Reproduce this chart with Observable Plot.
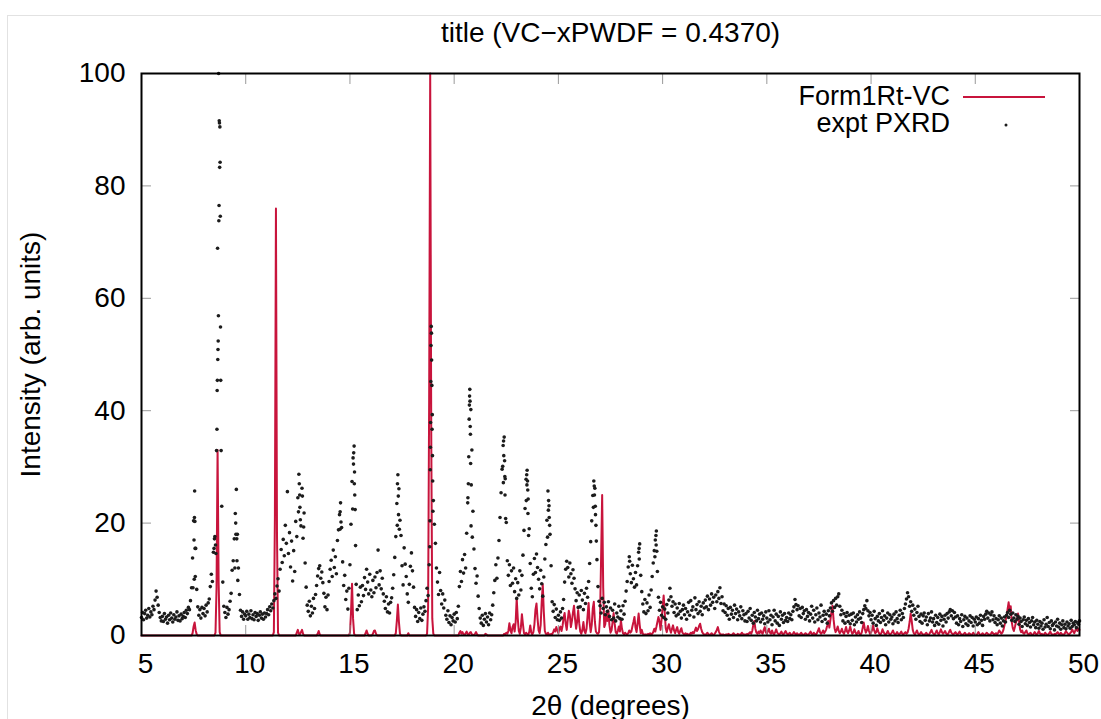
<!DOCTYPE html>
<html>
<head>
<meta charset="utf-8">
<script src="https://cdn.jsdelivr.net/npm/d3@7"></script>
<script src="https://cdn.jsdelivr.net/npm/@observablehq/plot@0.6"></script>
<style>
  html, body { margin: 0; padding: 0; background: #fff; }
  #wrap { position: relative; width: 1101px; height: 719px; overflow: hidden; background: #fff; }
  #edge { position: absolute; left: 7px; top: 15px; width: 1094px; height: 704px; border-top: 1px solid #e2e2e2; border-left: 1px solid #e2e2e2; box-sizing: border-box; }
  #chart { position: absolute; left: 0; top: 0; }
  #legend { position: absolute; left: 0; top: 0; pointer-events: none; }
</style>
</head>
<body>
<div id="wrap"><div id="edge"></div><div id="chart"></div></div>
<script>
// ---------------- data ----------------
const chartTitle = "title (VC\u2212xPWDF = 0.4370)";
const xLabel = "2\u03b8 (degrees)";
const yLabel = "Intensity (arb. units)";
const seriesNames = ["Form1Rt-VC", "expt PXRD"];
const xTicks = [5, 10, 15, 20, 25, 30, 35, 40, 45, 50];
const yTicks = [0, 20, 40, 60, 80, 100];

// both patterns are sampled from 5.00 to 50.00 deg in 0.05 deg steps (one row per degree)
const thetaStart = 5;
const thetaStep = 0.05;

// experimental PXRD intensities
const exptInt = [
  3.2,4.1,2.8,3.9,4.5,3.1,3.6,4.8,3.3,4.2,3.7,5.2,4.6,6.3,7.9,6.8,5.4,4.1,3.2,2.6,
  3.4,2.5,3.9,2.9,3.3,2.2,3.6,2.8,4.0,3.1,2.4,3.7,2.9,3.3,4.2,2.7,3.5,2.6,3.8,3.0,
  3.4,4.1,3.2,4.5,3.9,5.0,4.6,6.2,8.5,13.8,20.4,25.7,15.5,8.2,5.1,3.6,4.6,3.1,5.0,3.9,
  4.8,3.5,5.4,4.2,5.8,6.5,8.7,10.9,9.6,14.8,17.2,16.1,32.9,68.9,100,83.3,45.4,23.0,9.5,5.2,
  4.1,3.2,5.0,3.8,4.6,6.1,7.5,11.6,13.3,17.2,21.7,26.0,18.0,12.0,7.3,4.5,3.4,4.2,2.9,3.8,
  3.5,4.3,2.9,3.8,3.2,4.4,3.0,3.7,2.8,4.1,3.4,3.9,2.7,3.6,4.2,3.1,3.8,2.9,4.0,3.3,
  3.9,4.6,3.7,5.1,4.4,5.6,4.9,6.2,7.4,6.6,8.8,10.1,7.9,11.8,15.3,13.0,17.1,14.2,19.6,16.4,
  25.6,14.6,18.3,12.2,16.8,9.7,15.1,11.4,20.3,17.6,24.5,28.7,22.8,19.5,26.2,17.3,21.8,12.9,8.6,5.4,
  4.3,6.1,3.5,5.2,4.0,6.6,4.8,7.3,8.9,10.6,11.9,12.4,10.2,11.3,9.4,7.5,5.1,6.8,4.6,7.2,
  9.6,11.8,13.4,10.5,15.2,12.1,14.0,11.0,16.9,18.8,21.5,23.6,19.2,13.1,8.9,10.7,6.4,7.9,4.7,8.4,
  12.6,19.8,27.4,31.6,33.7,22.4,9.1,4.6,7.2,5.3,8.6,6.0,8.9,7.1,10.3,8.2,11.8,9.5,7.4,10.9,
  8.1,6.9,9.8,7.6,10.4,8.5,11.2,15.2,9.0,11.5,8.3,10.2,7.4,6.1,4.8,6.9,4.2,5.6,4.0,5.9,
  6.7,8.4,10.8,13.9,17.6,23.5,28.6,26.1,20.5,17.8,12.4,9.0,15.6,12.7,10.5,7.4,5.9,9.1,12.3,14.7,
  11.5,8.6,5.0,3.4,4.6,2.5,4.1,3.0,4.9,2.7,3.8,5.1,4.3,6.2,8.4,7.1,12.6,29.5,55.0,39.3,
  24.0,19.8,16.4,12.0,9.5,7.3,11.2,8.0,5.6,7.4,4.9,6.3,3.6,2.9,4.4,2.3,3.5,1.9,3.2,2.6,
  3.8,2.4,4.1,3.0,5.2,8.7,11.4,9.6,13.5,11.1,14.4,12.0,18.2,23.6,31.8,43.8,40.2,33.0,22.1,15.4,
  11.9,9.3,10.6,7.0,4.8,3.1,2.2,3.6,1.8,2.9,3.9,2.4,3.3,1.9,4.0,2.8,3.7,5.4,7.6,9.8,
  12.6,10.2,13.8,16.9,21.0,25.4,29.6,33.8,35.3,27.9,20.1,13.3,10.7,12.6,8.9,11.5,9.3,12.0,7.8,10.1,
  6.6,9.4,7.2,11.5,8.1,10.7,14.3,18.7,22.6,27.8,29.4,24.3,19.0,12.8,8.4,6.9,10.9,13.7,11.2,14.5,
  12.1,10.0,8.3,11.6,9.2,7.0,10.4,13.6,16.2,20.5,25.7,23.1,18.0,12.4,6.0,4.3,5.5,3.2,4.7,2.8,
  3.6,2.7,4.2,3.1,4.8,6.4,9.5,11.8,13.2,12.1,10.4,12.9,11.0,9.3,11.7,10.2,8.3,6.2,7.6,5.0,
  7.2,5.1,8.0,6.3,4.6,7.5,5.7,8.4,6.8,9.6,12.8,16.7,20.4,24.9,27.5,26.2,19.6,13.5,8.7,6.1,
  5.3,4.0,6.6,4.8,5.9,3.7,5.1,4.3,6.0,3.4,4.9,2.8,4.5,3.1,5.6,2.6,4.0,3.3,5.2,3.0,
  4.4,2.9,5.3,3.8,6.1,7.9,9.6,12.2,14.0,11.0,9.4,12.5,10.1,8.6,11.2,9.0,12.4,14.8,16.3,10.7,
  7.8,5.6,4.2,6.4,3.9,5.8,4.4,7.2,5.0,8.1,10.5,12.9,15.1,17.0,18.6,11.4,6.8,4.5,5.9,3.6,
  5.1,3.2,4.7,2.9,5.5,4.0,6.3,8.4,6.9,5.2,6.0,4.1,5.6,3.5,4.9,3.8,5.7,4.3,3.1,4.6,
  5.4,3.7,4.8,2.9,4.2,5.9,3.6,6.2,4.5,5.1,3.3,6.7,4.6,5.5,3.9,6.0,4.3,5.2,3.7,5.8,
  4.9,6.3,5.1,7.0,4.6,6.5,5.4,7.4,5.9,6.8,4.8,7.2,6.0,7.8,6.6,8.5,5.7,6.9,4.4,5.6,
  4.1,5.3,3.6,4.8,2.9,5.0,3.8,4.5,3.2,5.4,3.9,4.7,2.8,4.2,3.5,5.1,3.0,4.4,3.7,2.6,
  3.9,2.5,4.3,3.1,4.8,2.7,3.6,2.2,4.1,3.3,2.6,4.5,3.0,3.8,2.4,4.0,2.9,3.5,2.1,4.2,
  3.1,2.4,4.4,2.8,3.6,1.9,3.3,4.5,2.6,3.8,2.2,3.4,1.8,4.2,2.9,3.6,2.3,3.9,2.7,3.2,
  2.5,4.0,3.0,3.7,2.8,4.3,5.1,6.4,5.5,4.6,5.3,3.5,4.8,3.2,5.0,3.9,4.4,2.9,4.6,3.4,
  4.1,2.6,3.8,5.2,3.1,4.5,2.4,3.7,4.9,2.8,4.0,3.3,5.4,2.5,3.6,4.3,2.9,3.8,2.2,4.4,
  3.5,4.9,5.8,4.3,6.2,5.0,6.6,5.4,6.9,7.4,5.2,3.7,4.5,2.6,3.9,2.2,3.4,4.1,2.5,3.6,
  2.1,3.8,2.7,4.0,1.9,3.3,2.4,3.7,2.9,4.2,3.1,2.3,3.9,4.6,5.3,4.8,6.2,4.4,3.5,4.1,
  2.8,3.6,2.2,4.3,3.0,1.8,3.4,2.6,3.9,2.3,3.2,4.4,2.7,3.5,1.9,3.1,4.0,2.4,3.7,2.9,
  3.3,2.1,3.8,2.6,4.2,3.0,2.3,3.6,4.5,2.8,3.9,3.2,4.8,5.6,6.5,7.6,6.9,5.2,6.0,4.3,
  5.4,3.6,4.7,2.9,4.1,5.2,3.4,2.5,3.8,2.2,3.5,4.0,2.7,3.3,1.9,3.9,2.6,3.1,4.2,2.4,
  3.0,1.8,3.6,2.3,3.2,2.0,3.8,2.7,3.4,1.7,2.9,3.6,2.4,3.9,3.1,4.2,4.6,3.5,4.4,3.0,
  4.1,3.3,2.2,3.5,1.9,3.0,2.5,3.7,1.6,2.8,3.4,2.1,3.1,1.8,2.6,3.5,2.3,3.2,1.7,2.9,
  2.4,3.3,1.9,3.0,2.2,3.6,2.7,1.8,3.4,2.9,3.8,4.3,3.1,4.0,2.6,3.7,4.2,2.8,3.5,2.3,
  3.0,1.9,2.8,3.5,2.2,3.1,1.7,2.6,3.3,2.4,3.6,4.1,3.2,4.5,3.8,2.7,4.0,3.1,2.5,3.7,
  2.9,3.4,2.0,3.1,2.5,1.6,2.8,3.3,2.1,2.7,1.8,3.0,2.3,1.5,2.6,3.2,1.9,2.4,1.4,2.7,
  2.0,1.3,2.5,1.7,2.2,1.1,2.8,1.5,2.0,3.2,1.6,2.3,1.2,2.6,1.8,2.1,1.0,2.4,1.7,2.9,
  1.5,2.2,1.1,1.9,2.6,1.4,2.0,1.2,2.4,1.7,2.1,1.3,2.7,1.6,2.2,1.9,2.5,1.4,2.3,2.0,
  2.6
];

// extra experimental points recorded on the steep flanks of the strong reflections
const peakTheta = [
  7.47,7.52,7.53,7.54,7.56,7.57,7.58,
  8.48,8.52,8.57,8.62,8.63,8.64,8.66,8.67,8.68,8.69,8.71,8.72,8.73,8.74,8.76,8.77,8.78,8.79,8.82,
  9.48,9.52,9.53,9.57,9.58,9.62,
  12.53,12.57,12.59,12.62,12.72,12.78,
  14.52,14.53,14.57,
  15.13,15.17,15.18,15.21,15.22,15.23,15.27,
  17.27,17.28,17.32,17.33,17.37,
  18.83,18.84,18.86,18.87,18.88,18.89,18.91,18.92,18.93,18.94,18.96,18.97,18.98,
  20.66,20.68,20.72,20.73,20.74,20.76,20.77,20.78,20.79,20.81,20.82,20.87,
  22.33,22.36,22.37,22.38,22.42,22.43,22.44,22.47,
  23.46,23.48,23.49,23.52,23.53,23.54,23.57,
  24.48,24.52,24.53,24.56,24.58,
  26.68,26.72,26.73,26.77,26.78,26.82,
  28.42,28.87,28.88,
  29.63,29.68,29.69,29.72
];
const peakInt = [
  8.5,17.0,10.0,21.0,20.3,15.5,10.5,
  15.5,17.6,14.6,36.7,43.6,45.4,49.1,50.9,52.4,56.9,73.8,76.5,91.6,91.2,90.5,84.2,74.6,54.9,32.9,
  12.0,20.0,18.0,17.2,13.3,9.8,
  22.0,27.0,25.0,20.6,24.8,19.3,
  18.9,22.0,20.2,
  22.5,30.5,32.5,27.0,29.1,25.0,16.0,
  19.6,27.0,24.8,21.5,18.9,
  15.8,20.4,33.5,37.9,45.2,51.6,53.8,49.0,44.5,36.7,32.0,27.5,22.1,
  24.5,27.0,38.5,41.0,42.6,41.7,37.2,35.8,30.6,19.5,26.8,17.5,
  30.1,27.2,34.6,32.0,31.1,28.3,25.0,20.8,
  24.0,28.6,26.8,27.5,25.9,21.7,17.8,
  17.5,22.3,24.0,21.0,19.6,
  22.8,26.6,25.0,23.0,21.5,16.8,
  13.2,15.5,13.6,
  14.0,17.8,16.1,15.0
];

// calculated pattern of Form1Rt-VC
const calcInt = [
  0,0,0,0,0,0,0,0,0,0,0,0,0,0,0,0,0,0,0,0,
  0,0,0,0,0,0,0,0,0,0,0,0,0,0,0,0,0,0,0,0,
  0,0,0,0,0,0,0,0,0,0.4,1.6,2.3,0.9,0.2,0,0,0,0,0,0,
  0,0,0,0,0,0,0,0,0,0,0,0.5,8.5,33.0,9.5,0.6,0,0,0,0,
  0,0,0,0,0,0,0,0,0,0,0,0,0,0,0,0,0,0,0,0,
  0,0,0,0,0,0,0,0,0,0,0,0,0,0,0,0,0,0,0,0,
  0,0,0,0,0,0,0,0.6,21.0,76.0,18.0,0.5,0,0,0,0,0,0,0,0,
  0,0,0,0,0,0,0,0,0,0.5,1.0,0.3,0.2,0.6,1.0,0.3,0,0,0,0,
  0,0,0,0,0,0,0,0,0,0.3,0.8,0.2,0,0,0,0,0,0,0,0,
  0,0,0,0,0,0,0,0,0,0,0,0,0,0,0,0,0,0,0,0,
  0.5,4.0,9.2,3.0,0.3,0,0,0,0,0,0,0,0,0,0,0.4,0.9,0.3,0,0,
  0,0,0.3,0.8,0.9,0.3,0,0,0,0,0,0,0,0,0,0,0,0,0,0,
  0,0,0,0,0.4,2.6,5.5,2.4,0.3,0,0,0,0,0,0,0,0.4,0,0,0,
  0,0,0,0,0,0,0,0,0,0,0,0,0,0,0.3,5.0,42.0,100,36.0,3.0,
  0.3,0,0,0,0,0,0,0,0,0,0,0,0,0,0,0,0,0,0,0,
  0,0,0,0,0,0.5,0.8,0.3,0.6,0.2,0.1,0.4,0.7,0.2,0.1,0.5,0.6,0.2,0.1,0.1,
  0.3,0.6,0.2,0,0,0,0,0,0,0,0.3,0.2,0,0,0,0,0,0,0,0,
  0,0,0,0,0,0,0,0,0.3,0.2,0.5,0.3,0.8,2.2,0.9,0.4,1.5,2.0,0.7,2.4,
  6.6,3.1,0.8,0.3,1.4,3.8,2.0,0.4,0.2,0.5,0.3,0.1,0.6,1.8,0.5,0.2,0.6,2.0,4.6,5.7,
  3.0,0.9,0.4,1.9,6.0,9.1,4.2,0.8,0.3,0.2,0.5,0.2,0.1,0.3,0.2,0.6,1.1,0.7,1.5,0.9,
  0.4,1.3,1.6,0.8,1.7,3.2,4.0,2.1,1.0,2.8,4.4,3.6,1.5,2.6,4.1,5.3,2.9,1.2,2.5,4.5,
  2.2,0.7,0.3,1.0,2.4,0.8,0.4,1.2,3.5,5.8,2.3,0.6,1.9,4.8,6.0,2.5,0.7,0.4,0.3,0.6,
  3.5,14.0,25.0,8.5,1.5,2.0,4.0,2.6,4.5,1.8,0.5,0.9,2.4,4.0,2.1,0.6,0.3,0.8,1.6,0.7,
  2.7,1.2,0.4,0.2,0.5,0.3,0.2,0.4,0.9,0.5,0.7,1.6,2.4,3.3,1.4,0.6,2.2,3.9,1.9,0.4,
  1.0,0.3,0.2,0.1,0.2,0.1,0.3,0.2,0.4,0.2,0.3,0.6,1.2,0.7,1.5,2.4,3.3,2.5,1.0,2.8,
  5.0,7.1,4.2,1.3,0.6,1.4,2.0,1.1,0.5,1.2,1.8,0.9,0.4,1.0,1.5,0.6,0.3,0.9,1.3,0.5,
  0.3,0.2,0.4,0.2,0.3,0.1,0.2,0.5,0.3,0.6,0.4,0.9,1.4,0.8,1.1,1.7,2.1,1.2,0.6,0.3,
  0.2,0.1,0.3,0.5,0.2,0.1,0.2,0.4,0.2,0.1,0.3,0.6,1.0,1.5,0.7,0.3,0.2,0.1,0.2,0.1,
  0.1,0.2,0.1,0.3,0.2,0.1,0.1,0.2,0.4,0.2,0.1,0.1,0.3,0.2,0.1,0.2,0.5,0.3,0.1,0.2,
  0.1,0.3,0.2,0.4,0.6,0.3,0.8,1.9,2.6,1.2,0.5,0.3,0.7,0.4,0.9,0.5,0.3,1.0,1.5,0.6,
  0.3,0.8,1.2,0.5,0.3,0.9,0.4,0.2,0.6,1.1,0.5,0.3,0.2,0.4,0.7,0.3,0.2,0.5,0.8,0.4,
  0.2,0.3,0.5,0.2,0.1,0.3,0.6,0.3,0.2,0.4,0.2,0.1,0.3,0.5,0.2,0.1,0.2,0.4,0.3,0.1,
  0.2,0.4,0.7,0.3,0.2,0.5,0.3,0.1,0.4,0.8,1.3,0.6,0.3,0.5,0.9,0.4,0.7,1.1,1.8,2.6,
  1.4,2.8,4.2,5.3,2.9,1.3,0.6,1.0,1.6,0.8,0.4,0.7,1.2,0.6,0.3,0.8,1.5,0.7,0.4,0.9,
  1.6,0.8,0.3,0.5,1.1,0.6,0.2,0.4,0.8,0.3,0.2,0.5,1.4,2.3,1.2,0.5,0.9,1.7,0.8,0.3,
  0.5,1.0,1.8,0.9,0.4,0.6,1.3,0.7,0.3,0.2,0.5,1.1,0.6,0.3,0.2,0.4,0.8,0.4,0.2,0.3,
  0.5,0.9,0.4,0.2,0.3,0.6,0.3,0.2,0.4,0.7,0.3,0.2,0.4,0.6,0.3,0.5,1.2,2.4,3.9,2.6,
  1.0,0.4,0.2,0.5,0.9,0.4,0.2,0.3,0.6,0.3,0.2,0.1,0.3,0.5,0.2,0.1,0.3,0.6,1.0,0.5,
  0.3,0.2,0.5,0.9,0.4,0.2,0.6,1.1,0.6,0.3,0.5,0.8,0.4,0.2,0.3,0.7,1.0,0.5,0.3,0.2,
  0.4,0.6,0.3,0.2,0.4,0.7,0.3,0.2,0.1,0.3,0.5,0.2,0.1,0.2,0.4,0.3,0.1,0.2,0.5,0.3,
  0.2,0.1,0.3,0.6,0.3,0.1,0.2,0.4,0.2,0.1,0.3,0.5,0.3,0.2,0.1,0.3,0.6,0.4,0.2,0.3,
  0.4,0.2,0.5,0.9,0.6,0.3,0.5,1.0,1.8,2.6,3.4,4.7,5.9,4.3,5.2,2.4,1.3,0.8,1.5,2.3,
  2.8,3.9,2.5,1.1,0.6,0.9,0.4,0.3,0.6,0.9,0.4,0.2,0.3,0.5,0.2,0.1,0.3,0.6,0.3,0.2,
  0.4,0.8,0.4,0.2,0.3,0.1,0.2,0.5,0.3,0.1,0.2,0.4,0.7,0.3,0.2,0.1,0.3,0.2,0.4,0.6,
  0.3,0.2,0.5,0.3,0.1,0.2,0.4,0.8,0.5,0.3,0.2,0.4,0.6,1.1,0.7,0.4,0.9,1.3,0.8,1.2,
  1.0
];

// ---------------- build rows ----------------
const thetaAt = i => +(thetaStart + i * thetaStep).toFixed(2);
const calcRows = calcInt.map((v, i) => ({theta: thetaAt(i), intensity: v}));
const exptRows = exptInt.map((v, i) => ({theta: thetaAt(i), intensity: v}))
  .concat(peakTheta.map((t, i) => ({theta: t, intensity: peakInt[i]})));

const RED = "#c8143c";
const DOT = "#1c1c1c";
const TICK = "#999999";
const FONT = "'Liberation Sans', Arial, Helvetica, sans-serif";

const chart = Plot.plot({
  width: 1101,
  height: 719,
  marginTop: 73,
  marginRight: 22,
  marginBottom: 84,
  marginLeft: 141,
  style: {fontFamily: FONT, fontSize: "28px", color: "#000", background: "transparent", overflow: "visible"},
  x: {domain: [5, 50]},
  y: {domain: [0, 100]},
  marks: [
    Plot.line(calcRows, {x: "theta", y: "intensity", stroke: RED, strokeWidth: 2}),
    Plot.dot(exptRows, {x: "theta", y: "intensity", r: 1.8, fill: DOT, stroke: null}),
    Plot.axisX({ticks: xTicks, tickFormat: () => "", tickSize: -10, stroke: TICK, label: null}),
    Plot.text(xTicks, {x: d => d, text: d => String(d), frameAnchor: "bottom", dy: 29, dx: 4, lineAnchor: "middle", fontSize: 28, fill: "#000"}),
    Plot.axisX({anchor: "top", ticks: xTicks, tickFormat: () => "", tickSize: -10, stroke: TICK, label: null}),
    Plot.axisY({ticks: yTicks, tickFormat: d => String(d), tickSize: -10, tickPadding: 26, stroke: TICK,
      label: yLabel, labelAnchor: "center", labelArrow: "none", labelOffset: 121}),
    Plot.axisY({anchor: "right", ticks: yTicks, tickFormat: () => "", tickSize: -10, stroke: TICK, label: null}),
    Plot.frame({stroke: "#000", strokeWidth: 2}),
    Plot.text([xLabel], {frameAnchor: "bottom", dy: 79, lineAnchor: "bottom", fontSize: 28, fill: "#000"}),
    Plot.text([chartTitle], {frameAnchor: "top", dy: -40, lineAnchor: "middle", fontSize: 28, fill: "#000"})
  ]
});
document.getElementById("chart").appendChild(chart);

// legend (key box inside the frame, top right)
const NS = "http://www.w3.org/2000/svg";
const leg = document.createElementNS(NS, "svg");
leg.setAttribute("id", "legend");
leg.setAttribute("width", 1101);
leg.setAttribute("height", 719);
leg.setAttribute("font-family", FONT);
leg.setAttribute("font-size", 27);
const t1 = document.createElementNS(NS, "text");
t1.setAttribute("x", 950); t1.setAttribute("y", 105); t1.setAttribute("text-anchor", "end");
t1.textContent = seriesNames[0];
const l1 = document.createElementNS(NS, "line");
l1.setAttribute("x1", 963); l1.setAttribute("x2", 1045); l1.setAttribute("y1", 97); l1.setAttribute("y2", 97);
l1.setAttribute("stroke", RED); l1.setAttribute("stroke-width", 2);
const t2 = document.createElementNS(NS, "text");
t2.setAttribute("x", 950); t2.setAttribute("y", 132); t2.setAttribute("text-anchor", "end");
t2.textContent = seriesNames[1];
const c2 = document.createElementNS(NS, "circle");
c2.setAttribute("cx", 1006); c2.setAttribute("cy", 125); c2.setAttribute("r", 1.5); c2.setAttribute("fill", DOT);
[t1, l1, t2, c2].forEach(n => leg.appendChild(n));
document.getElementById("wrap").appendChild(leg);
</script>
</body>
</html>
